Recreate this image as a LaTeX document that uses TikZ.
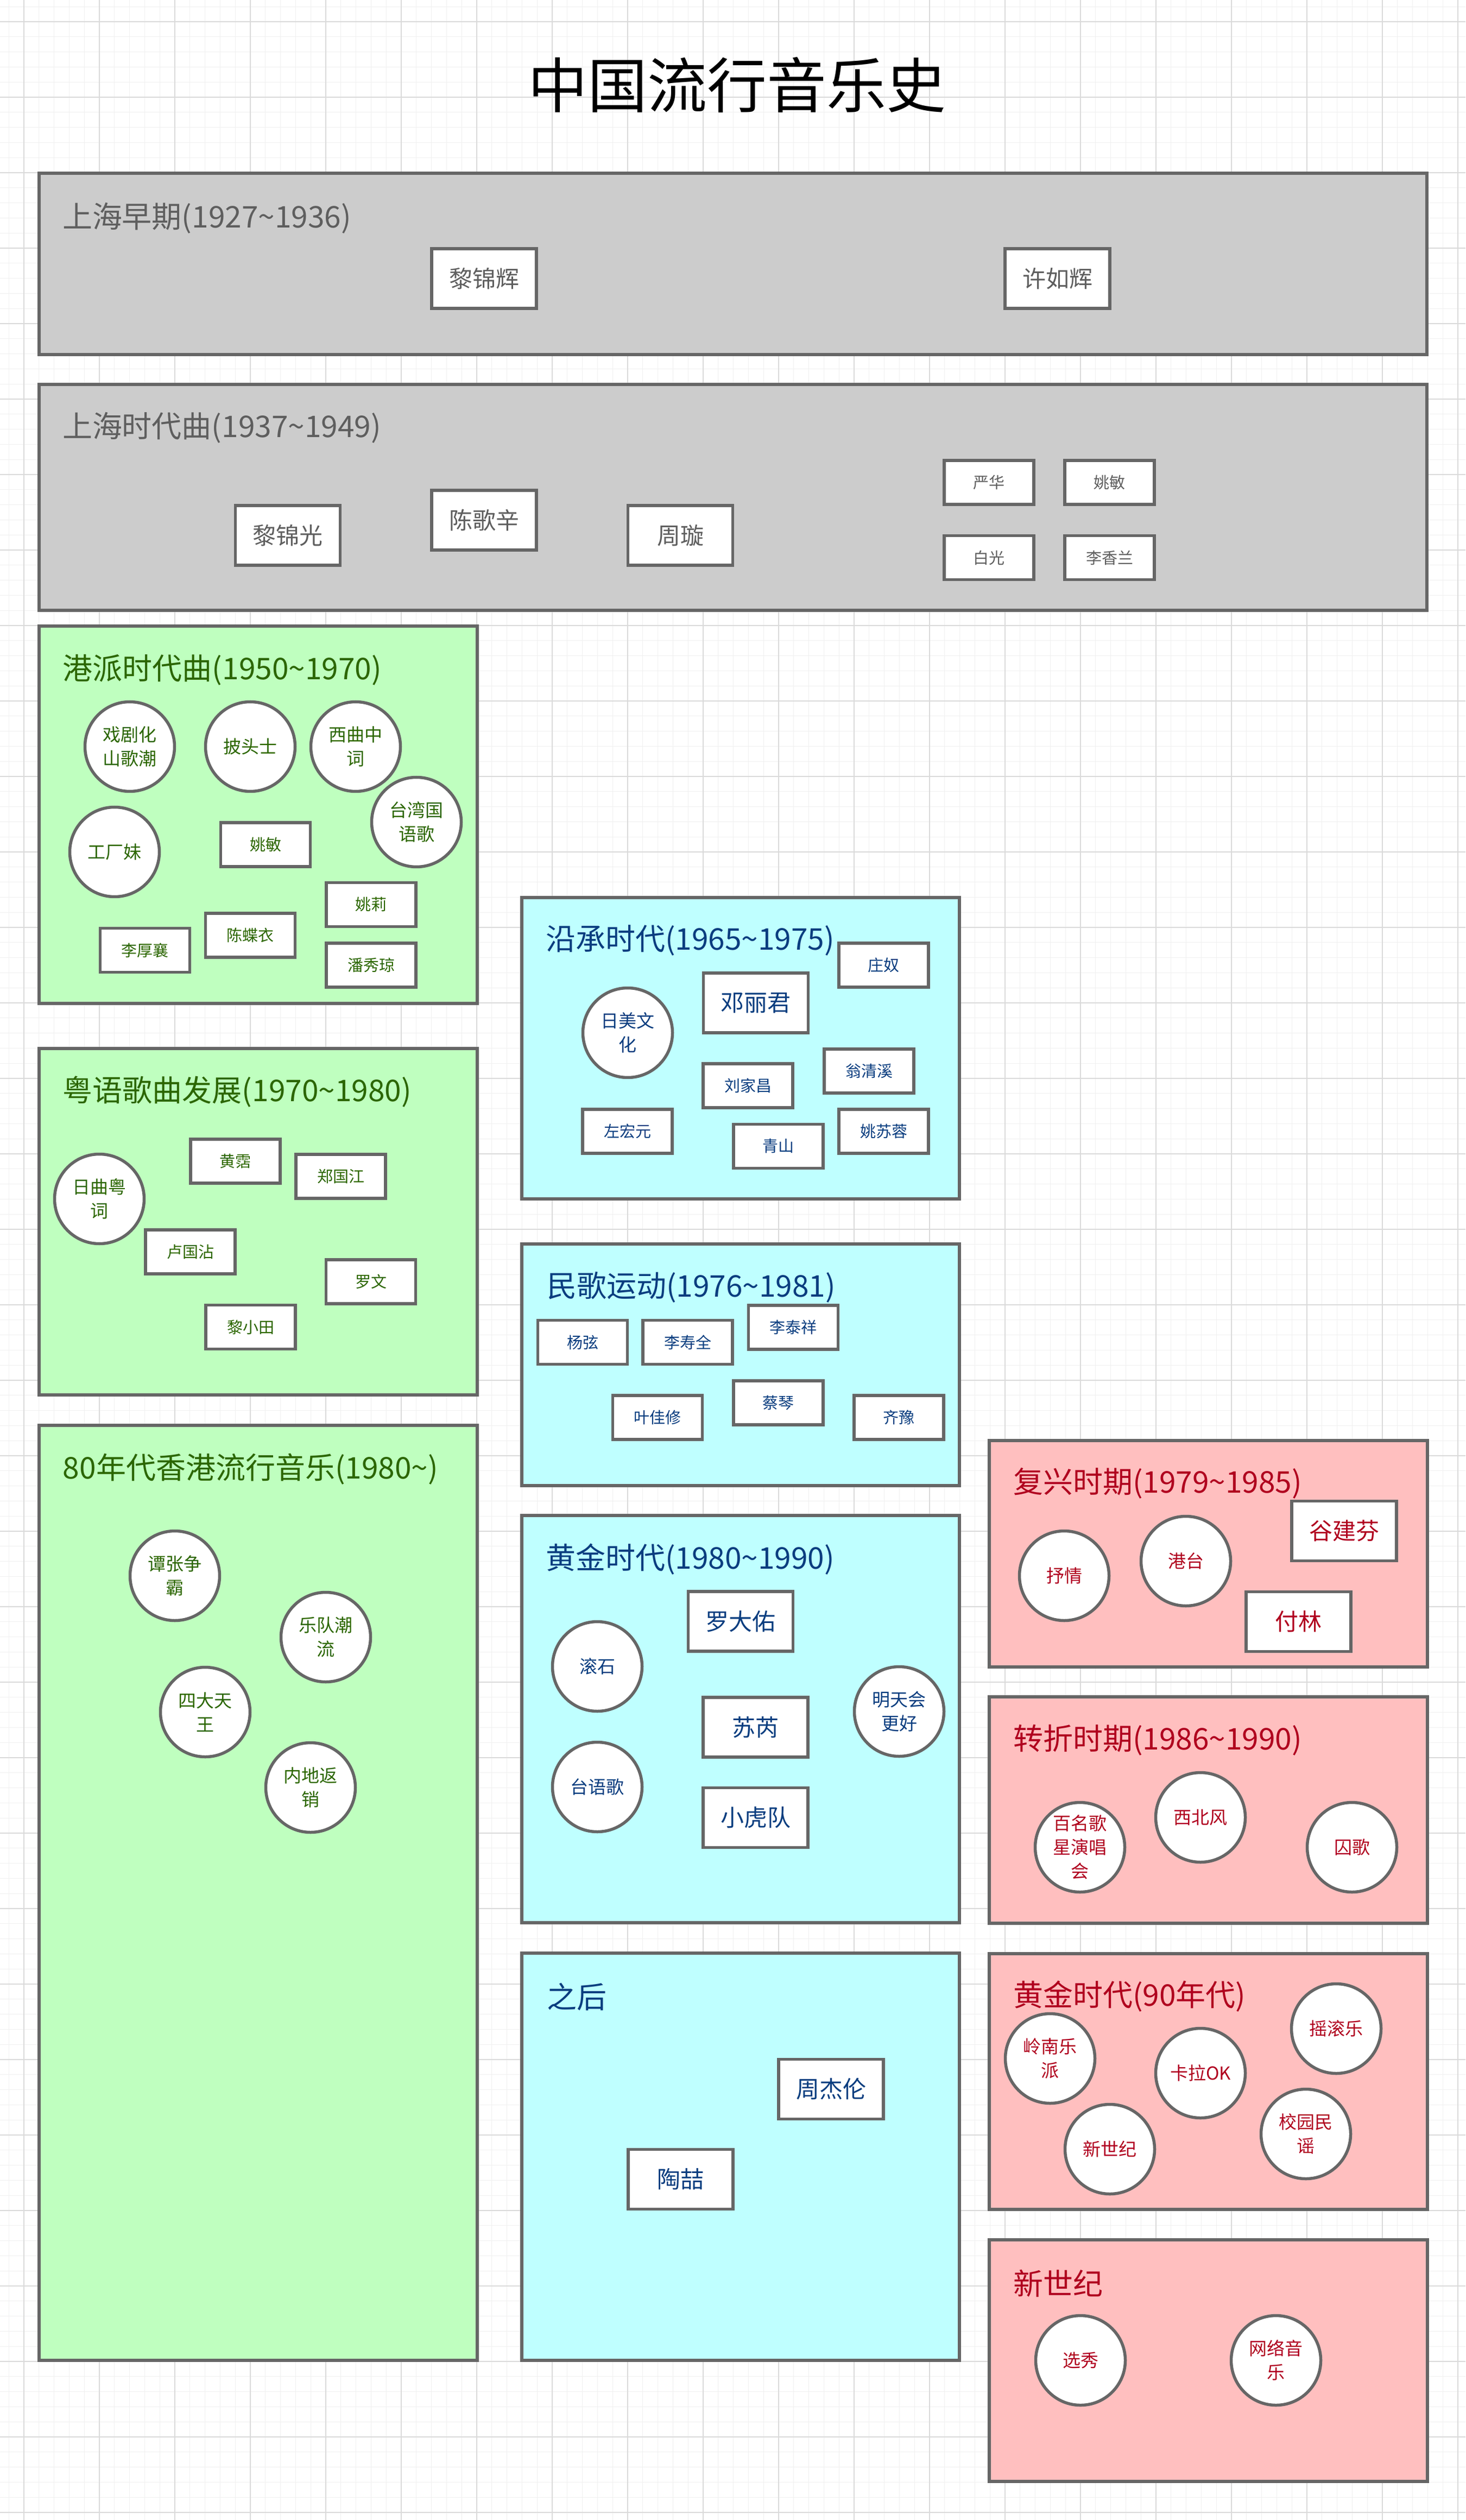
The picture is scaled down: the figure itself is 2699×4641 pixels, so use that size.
\documentclass[tikz,border=0pt]{standalone}
\usepackage{fontspec}
\setmainfont{Noto Sans CJK SC}
\definecolor{gzfill}{HTML}{CCCCCC}
\definecolor{grfill}{HTML}{BFFFBF}
\definecolor{blfill}{HTML}{BFFFFF}
\definecolor{rdfill}{HTML}{FFBFBF}
\definecolor{edgec}{HTML}{666666}
\definecolor{grtext}{HTML}{2B6600}
\definecolor{bltext}{HTML}{0A3D7F}
\definecolor{rdtext}{HTML}{B0001E}
\definecolor{gytext}{HTML}{5E5E5E}
\definecolor{gminorc}{HTML}{F0F0F0}
\definecolor{gmajorc}{HTML}{DADADA}
\tikzset{
  gminor/.style={draw=gminorc, line width=0.1pt},
  gmajor/.style={draw=gmajorc, line width=0.12pt},
  zone/.style={draw=edgec, line width=0.55pt},
  ttl/.style={anchor=west, inner sep=0pt, font=\fontsize{5.5pt}{6.6pt}\selectfont},
  rbig/.style={draw=edgec, fill=white, line width=0.55pt, minimum width=19.3pt, minimum height=11.0pt, inner sep=0pt, font=\fontsize{4.3pt}{5.2pt}\selectfont},
  rsmall/.style={draw=edgec, fill=white, line width=0.55pt, minimum width=16.5pt, minimum height=8.1pt, inner sep=0pt, font=\fontsize{2.9pt}{3.6pt}\selectfont},
  cnode/.style={circle, draw=edgec, fill=white, line width=0.55pt, minimum size=16.5pt, inner sep=-2pt, align=center, font=\fontsize{3.3pt}{4.4pt}\selectfont},
}
\begin{document}
\begin{tikzpicture}[x=0.1pt,y=-0.1pt]
\useasboundingbox (0,0) rectangle (2699,4641);
\fill[white] (0,0) rectangle (2699,4641);
% grid
\foreach \i in {0,...,97} \draw[gminor] ({16.2+27.8*\i},0) -- ({16.2+27.8*\i},4641);
\foreach \i in {0,...,166} \draw[gminor] (0,{12.2+27.8*\i}) -- (2699,{12.2+27.8*\i});
\foreach \i in {0,...,19} \draw[gmajor] ({44+139*\i},0) -- ({44+139*\i},4641);
\foreach \i in {0,...,33} \draw[gmajor] (0,{40+139*\i}) -- (2699,{40+139*\i});

% main title
\node[inner sep=0pt, font=\fontsize{11pt}{13pt}\selectfont] (title) at (1357,156) {中国流行音乐史};

% containers
\draw[zone, fill=gzfill] (72,319) rectangle (2628,653);
\draw[zone, fill=gzfill] (72,708) rectangle (2628,1124);
\draw[zone, fill=grfill] (72,1153) rectangle (879,1848);
\draw[zone, fill=grfill] (72,1931) rectangle (879,2569);
\draw[zone, fill=grfill] (72,2625) rectangle (879,4347);
\draw[zone, fill=blfill] (961,1653) rectangle (1767,2208);
\draw[zone, fill=blfill] (961,2291) rectangle (1767,2736);
\draw[zone, fill=blfill] (961,2791) rectangle (1767,3541);
\draw[zone, fill=blfill] (961,3597) rectangle (1767,4347);
\draw[zone, fill=rdfill] (1822,2653) rectangle (2629,3070);
\draw[zone, fill=rdfill] (1822,3125) rectangle (2629,3542);
\draw[zone, fill=rdfill] (1822,3598) rectangle (2629,4069);
\draw[zone, fill=rdfill] (1822,4125) rectangle (2629,4570);

% gray zones
\begin{scope}[every node/.append style={text=gytext}]
\node[ttl] (t1) at (113,402) {上海早期(1927\textasciitilde1936)};
\node[rbig] (a1) at (891.5,513) {黎锦辉};
\node[rbig] (a2) at (1947.5,513) {许如辉};
\node[ttl] (t2) at (113,788) {上海时代曲(1937\textasciitilde1949)};
\node[rbig] (b1) at (530,986) {黎锦光};
\node[rbig] (b2) at (891.5,958) {陈歌辛};
\node[rbig] (b3) at (1253,986) {周璇};
\node[rsmall] (b4) at (1821.5,888.5) {严华};
\node[rsmall] (b5) at (2043.5,888.5) {姚敏};
\node[rsmall] (b6) at (1821.5,1027) {白光};
\node[rsmall] (b7) at (2043.5,1027) {李香兰};
\end{scope}

% green zones
\begin{scope}[every node/.append style={text=grtext}]
\node[ttl] (t3) at (114,1234) {港派时代曲(1950\textasciitilde1970)};
\node[cnode] (c1) at (239,1375) {戏剧化\\山歌潮};
\node[cnode] (c2) at (461,1375) {披头士};
\node[cnode] (c3) at (655,1375) {西曲中\\词};
\node[cnode] (c4) at (767,1514) {台湾国\\语歌};
\node[cnode] (c5) at (211,1569) {工厂妹};
\node[rsmall] (c6) at (489,1555.5) {姚敏};
\node[rsmall] (c7) at (683.5,1666) {姚莉};
\node[rsmall] (c8) at (461,1722.5) {陈蝶衣};
\node[rsmall] (c9) at (267,1750) {李厚襄};
\node[rsmall] (c10) at (683.5,1777.5) {潘秀琼};

\node[ttl] (t4) at (114,2011) {粤语歌曲发展(1970\textasciitilde1980)};
\node[cnode] (d1) at (183,2208) {日曲粤\\词};
\node[rsmall] (d2) at (433.5,2138.5) {黄霑};
\node[rsmall] (d3) at (627.5,2166.5) {郑国江};
\node[rsmall] (d4) at (350.5,2305.5) {卢国沾};
\node[rsmall] (d5) at (683,2360.5) {罗文};
\node[rsmall] (d6) at (461.5,2444) {黎小田};

\node[ttl] (t5) at (114,2706) {80年代香港流行音乐(1980\textasciitilde)};
\node[cnode] (e1) at (322,2902) {谭张争\\霸};
\node[cnode] (e2) at (600,3015) {乐队潮\\流};
\node[cnode] (e3) at (378,3153) {四大天\\王};
\node[cnode] (e4) at (572,3292) {内地返\\销};
\end{scope}

% blue zones
\begin{scope}[every node/.append style={text=bltext}]
\node[ttl] (t6) at (1003,1732) {沿承时代(1965\textasciitilde1975)};
\node[cnode] (f1) at (1156,1902) {日美文\\化};
\node[rbig] (f2) at (1392,1847) {邓丽君};
\node[rsmall] (f3) at (1627.5,1777.5) {庄奴};
\node[rsmall] (f4) at (1377.5,1999.5) {刘家昌};
\node[rsmall] (f5) at (1600.5,1972.5) {翁清溪};
\node[rsmall] (f6) at (1155.5,2083.5) {左宏元};
\node[rsmall] (f7) at (1433.5,2111) {青山};
\node[rsmall] (f8) at (1627.5,2083.5) {姚苏蓉};

\node[ttl] (t7) at (1005,2371) {民歌运动(1976\textasciitilde1981)};
\node[rsmall] (g1) at (1073,2472) {杨弦};
\node[rsmall] (g2) at (1266.5,2472) {李寿全};
\node[rsmall] (g3) at (1461,2444.5) {李泰祥};
\node[rsmall] (g4) at (1211,2610.5) {叶佳修};
\node[rsmall] (g5) at (1433.5,2583.5) {蔡琴};
\node[rsmall] (g6) at (1655.5,2610.5) {齐豫};

\node[ttl] (t8) at (1003,2872) {黄金时代(1980\textasciitilde1990)};
\node[rbig] (h1) at (1364,2986) {罗大佑};
\node[rbig] (h2) at (1391.5,3181) {苏芮};
\node[rbig] (h3) at (1391.5,3347.5) {小虎队};
\node[cnode] (h4) at (1100,3069) {滚石};
\node[cnode] (h5) at (1100,3291) {台语歌};
\node[cnode] (h6) at (1656,3152) {明天会\\更好};

\node[ttl] (t9) at (1005,3677) {之后};
\node[rbig] (i1) at (1530.5,3847.5) {周杰伦};
\node[rbig] (i2) at (1253.5,4013.5) {陶喆};
\end{scope}

% red zones
\begin{scope}[every node/.append style={text=rdtext}]
\node[ttl] (t10) at (1864,2732) {复兴时期(1979\textasciitilde1985)};
\node[cnode] (j1) at (1960,2902) {抒情};
\node[cnode] (j2) at (2184,2875) {港台};
\node[rbig] (j3) at (2475.5,2819.5) {谷建芬};
\node[rbig] (j4) at (2391.5,2986.5) {付林};

\node[ttl] (t11) at (1864,3205) {转折时期(1986\textasciitilde1990)};
\node[cnode] (k1) at (1989,3402) {百名歌\\星演唱\\会};
\node[cnode] (k2) at (2211,3347) {西北风};
\node[cnode] (k3) at (2490,3402) {囚歌};

\node[ttl] (t12) at (1864,3677) {黄金时代(90年代)};
\node[cnode] (l1) at (1934,3791) {岭南乐\\派};
\node[cnode] (l2) at (2211,3818) {卡拉OK};
\node[cnode] (l3) at (2461,3736) {摇滚乐};
\node[cnode] (l4) at (2044,3958) {新世纪};
\node[cnode] (l5) at (2405,3930) {校园民\\谣};

\node[ttl] (t13) at (1864,4205) {新世纪};
\node[cnode] (m1) at (1990,4347) {选秀};
\node[cnode] (m2) at (2350,4347) {网络音\\乐};
\end{scope}
\end{tikzpicture}
\end{document}
